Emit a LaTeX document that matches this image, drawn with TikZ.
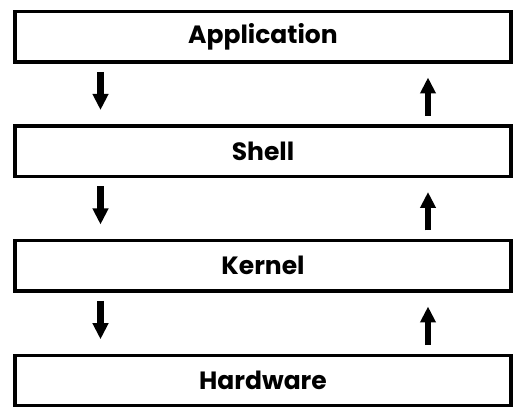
\documentclass[tikz,border=0pt]{standalone}
\usepackage{fontspec}
\setmainfont{Poppins}
\usetikzlibrary{arrows.meta,calc}
\begin{document}
\begin{tikzpicture}[x=1pt,y=-1pt,
  layerbox/.style={draw=black,line width=3.3pt,minimum width=496pt,minimum height=50.5pt,
    inner sep=0pt,outer sep=0pt,font=\bfseries\fontsize{25}{30}\selectfont},
  flow/.style={line width=6.5pt,-{Triangle[width=15pt,length=16pt]}}]
\useasboundingbox (0,0) rectangle (522,419);
\node[layerbox] (app) at (263,36.75) {Application};
\node[layerbox] (shell) at (263,151.25) {Shell};
\node[layerbox] (kernel) at (263,265.75) {Kernel};
\node[layerbox] (hw) at (263,380.5) {Hardware};
\foreach \a/\b in {app/shell,shell/kernel,kernel/hw}{
  \draw[flow] ($(\a.south)+(-162.5,10)$) -- ($(\b.north)+(-162.5,-16)$);
  \draw[flow] ($(\b.north)+(165,-10)$) -- ($(\a.south)+(165,15.5)$);
}
\end{tikzpicture}
\end{document}
